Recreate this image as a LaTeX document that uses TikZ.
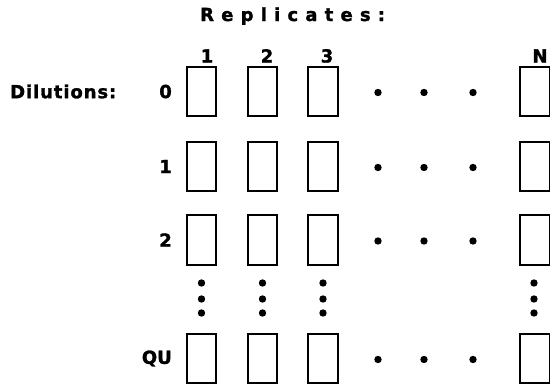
\documentclass[tikz,border=0pt]{standalone}
\usepackage{fontspec}
\setmainfont{DejaVu Sans}[BoldFeatures={FakeBold=1.5}]
\newfontfamily\titlefont{DejaVu Sans}[LetterSpace=40,BoldFeatures={FakeBold=1.5}]
\newfontfamily\dilfont{DejaVu Sans}[LetterSpace=5,BoldFeatures={FakeBold=1.5}]
\begin{document}
\begin{tikzpicture}[x=1pt,y=-1pt,
  cell/.style={draw, line width=1.6pt, minimum width=29.5pt, minimum height=49.5pt, inner sep=0pt},
  lbl/.style={font=\fontsize{18}{20}\selectfont\bfseries, inner sep=0pt},
  dotmark/.style={fill=black}]
\useasboundingbox (0,0) rectangle (550,386);
% title and side label
\node[lbl, anchor=base west, font=\fontsize{18}{20}\selectfont\titlefont\bfseries] (title) at (200,21) {Replicates:};
\node[lbl, anchor=west, font=\fontsize{18}{20}\selectfont\dilfont\bfseries] (dil) at (10,91.5) {Dilutions:};
% boxes
\foreach \r/\y/\t in {0/91.5/0,1/166.5/1,2/240/2,q/358.5/QU}{
  \foreach \c/\x in {1/201.5,2/262.5,3/323,n/535}{
    \node[cell] (b\r\c) at (\x,\y) {};
  }
  \node[lbl, anchor=east] (r\r) at (172,\y) {\t};
  \foreach \dx in {378,424,473}{
    \fill[dotmark] (\dx,\y+1) circle (3.7pt);
  }
}
% column labels
\foreach \c/\x/\t in {1/207/1,2/267/2,3/327/3,n/540/N}{
  \node[lbl, anchor=base] (c\c) at (\x,62.5) {\t};
}
% vertical dots
\foreach \x in {201.5,262.5,323,534}{
  \foreach \dy in {283,299,313}{
    \fill[dotmark] (\x,\dy) circle (3.7pt);
  }
}
\end{tikzpicture}
\end{document}
